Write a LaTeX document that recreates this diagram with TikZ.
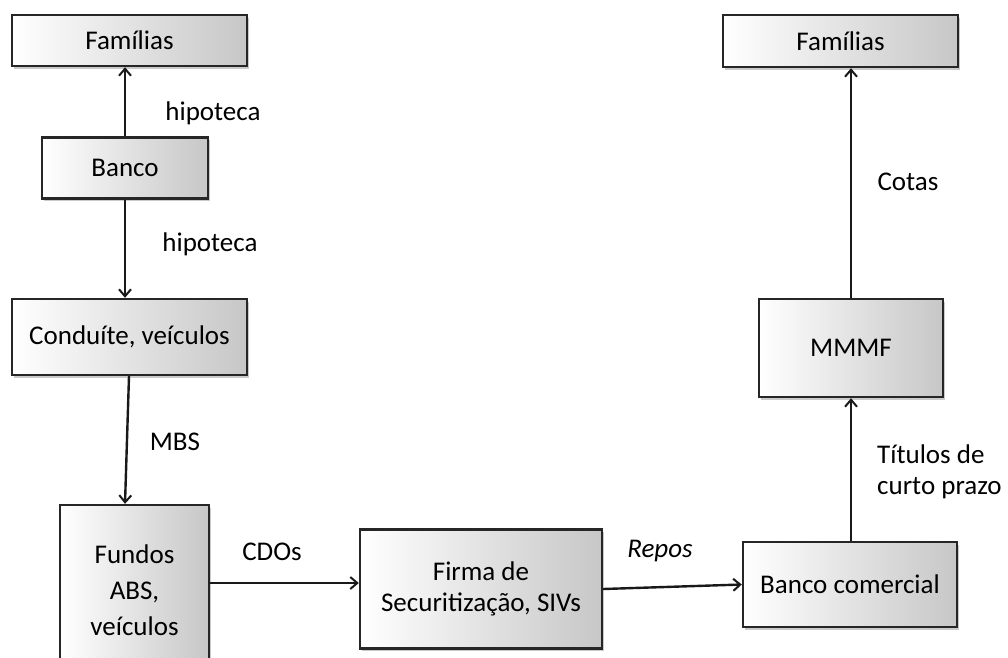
\documentclass[tikz,border=0pt]{standalone}
\usepackage{fontspec}
\setmainfont{Carlito}
\usetikzlibrary{arrows.meta,shadows,calc}
\begin{document}
\begin{tikzpicture}[x=1pt,y=-1pt,
  box/.style={draw=black!85,line width=2.4pt,rectangle,left color=white,right color=black!22,
    drop shadow={shadow xshift=2pt,shadow yshift=-2.5pt,opacity=0.35,fill=black!60},
    align=center,inner sep=0pt,font=\fontsize{27}{31}\selectfont},
  conn/.style={line width=2.4pt,draw=black!90,-{Straight Barb[length=7pt,width=12pt,line width=2pt]}},
  lbl/.style={font=\fontsize{27}{31}\selectfont,inner sep=0pt}]
\useasboundingbox (0,0) rectangle (1008,657);
\begin{scope}
\clip (0,0) rectangle (1008,657);
\node[box,minimum width=235pt,minimum height=51pt] (fam1) at (129.5,40.5) {Famílias};
\node[box,minimum width=166pt,minimum height=61pt] (banco) at (125,168) {Banco};
\node[box,minimum width=235pt,minimum height=76pt] (cond) at (129.5,337) {Conduíte, veículos};
\node[box,minimum width=149pt,minimum height=170pt,font=\fontsize{27}{36}\selectfont] (fundos) at (134.5,590) {Fundos\\ABS,\\veículos};
\node[box,minimum width=242pt,minimum height=119pt] (firma) at (481,589) {Firma de\\Securitização, SIVs};
\node[box,minimum width=214pt,minimum height=85pt] (bcom) at (850,584.5) {Banco comercial};
\node[box,minimum width=184pt,minimum height=98pt] (mmmf) at (851,348) {MMMF};
\node[box,minimum width=235pt,minimum height=52pt] (fam2) at (840.5,41) {Famílias};
\end{scope}
\draw[conn] (banco.north) -- (banco.north |- fam1.south);
\draw[conn] (banco.south) -- (banco.south |- cond.north);
\draw[conn] ([xshift=-0.5pt]cond.south) -- ([xshift=-9.5pt]fundos.north);
\draw[conn] ([yshift=7pt]fundos.east) -- ([yshift=6pt]firma.west);
\draw[conn] (firma.east) -- (bcom.west);
\draw[conn] ([xshift=1pt]bcom.north) -- (mmmf.south);
\draw[conn] (mmmf.north) -- (mmmf.north |- fam2.south);
\node[lbl] (h1) at (213,113) {hipoteca};
\node[lbl] (h2) at (210,244) {hipoteca};
\node[lbl] (mbs) at (175,442) {MBS};
\node[lbl] (cdo) at (272,552) {CDOs};
\node[lbl] (rep) at (660,551) {\itshape Repos};
\node[lbl] (cot) at (908,182) {Cotas};
\node[lbl,anchor=west,align=left] (tit) at (877,472) {Títulos de\\curto prazo};
\end{tikzpicture}
\end{document}
